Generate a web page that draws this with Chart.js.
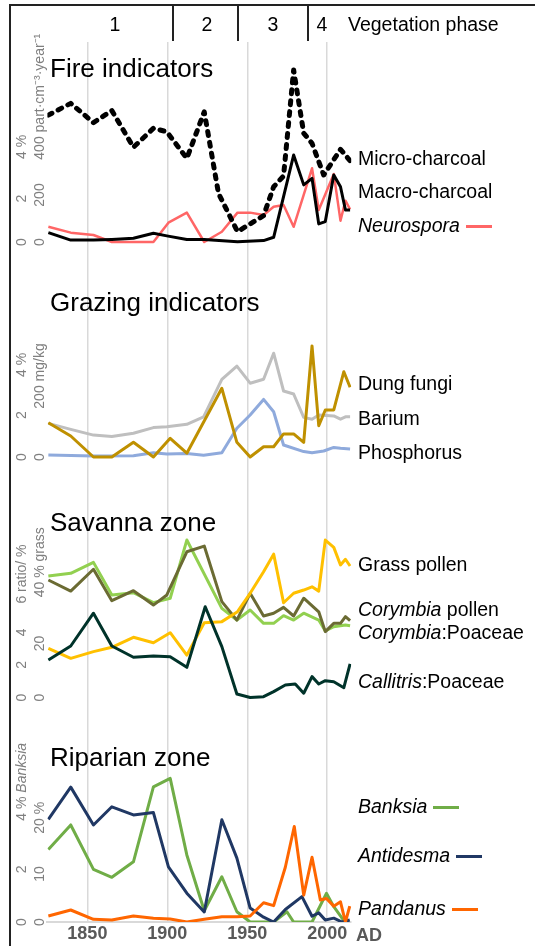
<!DOCTYPE html>
<html><head><meta charset="utf-8">
<script src="https://cdn.jsdelivr.net/npm/chart.js@4.4.1/dist/chart.umd.min.js"></script>
<style>
html,body{margin:0;padding:0;background:#fff;}
#wrap{position:relative;width:535px;height:946px;overflow:hidden;font-family:"Liberation Sans",Arial,sans-serif;background:#fff;}
canvas{position:absolute;left:0;}
.t{position:absolute;white-space:nowrap;line-height:1;color:#000;}
.seg{display:inline-block;height:3px;vertical-align:middle;margin-left:6px;width:26px;position:relative;top:-1px;}
.rule{position:absolute;background:#222;}
</style></head>
<body><div id="wrap">
<div class="rule" style="left:9px;top:4px;width:526px;height:2px;"></div>
<div class="rule" style="left:9px;top:4px;width:2px;height:942px;"></div>
<div class="rule" style="left:172px;top:4px;width:2px;height:37px;"></div>
<div class="rule" style="left:237px;top:4px;width:2px;height:37px;"></div>
<div class="rule" style="left:307px;top:4px;width:2px;height:37px;"></div>
<canvas id="c1"></canvas><canvas id="c2"></canvas><canvas id="c3"></canvas><canvas id="c4"></canvas>
</div>
<script>
// ---------- axis / tick data ----------
const X_MIN = 1825, X_MAX = 2015;
const xTicks = [1850, 1900, 1950, 2000];

const fireOuterTicks = [0, 2, 4],   fireOuterLabels = ['0', '2', '4 %'];
const fireInnerTicks = [0, 200, 400], fireInnerLabels = ['0', '200', '400 part\u00B7cm\u207B\u00B3\u00B7year\u207B\u00B9'];
const grazOuterTicks = [0, 2, 4],   grazOuterLabels = ['0', '2', '4 %'];
const grazInnerTicks = [0, 200],    grazInnerLabels = ['0', '200 mg/kg'];
const savOuterTicks = [0, 2, 4, 6], savOuterLabels = ['0', '2', '4', '6 ratio/ %'];
const savInnerTicks = [0, 20, 40],  savInnerLabels = ['0', '20', '40 % grass'];
const ripOuterTicks = [0, 2, 4],    ripOuterLabels = ['0', '2', '4 % _Banksia_'];
const ripInnerTicks = [0, 10, 20],  ripInnerLabels = ['0', '10', '20 %'];

// ---------- Fire indicators ----------
const microYears = [1825.6,1839.6,1853.8,1865.3,1878.8,1891.3,1899.7,1912.2,1923.1,1932.0,1943.9,1960.2,1966.5,1972.7,1979.0,1985.3,1990.5,1997.8,2008.3,2014.3];
const microVals  = [540,590,508,559,403,484,469,356,554,207,44,112,235,281,732,463,420,285,394,346];
const macroYears = [1825.6,1839.6,1853.8,1865.3,1878.8,1891.3,1899.7,1912.2,1923.1,1943.9,1960.2,1966.5,1979.0,1985.3,1990.5,1994.7,1998.8,2004.1,2008.3,2011.4,2014.3];
const macroVals  = [40,8,8,11,16,37,26,11,11,1,6,20,370,243,271,77,87,285,235,136,136];
const neuroYears = [1825.6,1839.6,1853.8,1865.3,1878.8,1891.3,1900.7,1912.2,1923.1,1934.1,1943.9,1951.8,1960.2,1966.5,1972.7,1979.0,1990.5,1994.7,2004.1,2008.3,2011.4,2014.3];
const neuroVals  = [0.70,0.43,0.32,0,0,0,0.89,1.35,0,0.47,1.35,1.35,1.24,1.62,1.70,0.70,3.39,1.47,3.13,0.98,1.90,1.50];

// ---------- Grazing indicators ----------
const bariumYears = [1825.6,1839.6,1853.8,1865.3,1878.8,1891.3,1899.7,1912.2,1922.7,1934.1,1943.5,1951.8,1960.2,1966.5,1972.7,1979.0,1985.3,1990.5,1994.7,2004.1,2008.3,2011.4,2014.3];
const bariumVals  = [112,92,73,68,79,98,101,109,134,259,303,246,259,346,220,210,132,126,140,137,126,134,134];
const phosYears = [1825.6,1853.8,1878.8,1891.3,1899.7,1912.2,1922.7,1934.1,1943.5,1951.8,1960.2,1966.5,1972.7,1985.3,1990.5,1997.8,2004.1,2008.3,2014.3];
const phosVals  = [7,3,4,14,10,12,6,14,96,140,192,151,40,18,14,20,32,29,27];
const dungYears = [1825.6,1839.6,1853.8,1865.3,1878.8,1891.3,1901.8,1912.2,1934.1,1943.5,1951.8,1960.2,1966.5,1972.7,1979.0,1985.3,1990.5,1994.7,1998.8,2004.1,2010.4,2014.3];
const dungVals  = [1.63,1.0,0,0,0.70,0,0.89,0.18,3.27,0.70,0,0.49,0.49,1.10,1.10,0.70,5.29,1.49,2.24,2.24,4.06,3.32];

// ---------- Savanna zone ----------
const grassYears = [1825.6,1839.6,1853.8,1865.3,1878.8,1891.3,1901.8,1912.2,1923.1,1934.1,1943.9,1951.8,1960.2,1966.5,1972.7,1979.0,1985.3,1990.5,1994.7,1998.8,2004.1,2008.3,2011.4,2014.3];
const grassVals  = [18.2,14.5,17.0,18.6,22.3,20.3,24.0,15.7,27.7,28.1,31.8,38.6,46.6,53.1,35.1,38.6,39.8,41.0,39.4,58.3,55.6,49.1,51.2,48.7];
const coryYears = [1825.6,1839.6,1853.8,1865.3,1878.8,1891.3,1901.8,1912.2,1934.1,1943.5,1951.8,1960.2,1966.5,1972.7,1979.0,1985.3,1994.7,1998.8,2004.1,2011.4,2014.3];
const coryVals  = [7.45,7.62,8.29,6.29,6.43,5.82,6.09,9.66,5.47,4.75,5.37,4.55,4.55,5.02,4.75,5.17,4.75,4.08,4.34,4.45,4.40];
const coryPoaYears = [1825.6,1839.6,1853.8,1865.3,1878.8,1891.3,1899.7,1912.2,1923.1,1934.1,1943.5,1951.8,1960.2,1966.5,1972.7,1979.0,1985.3,1994.7,1998.8,2004.1,2008.3,2011.4,2014.3];
const coryPoaVals  = [7.21,6.53,7.87,5.94,6.55,5.67,6.29,8.94,9.29,5.88,4.75,6.39,5.00,5.17,5.53,5.00,6.09,5.26,4.04,4.55,4.55,4.96,4.71];
const callYears = [1825.6,1839.6,1853.8,1865.3,1878.8,1891.3,1901.8,1912.2,1923.7,1934.1,1943.5,1951.8,1960.2,1966.5,1973.8,1980.0,1985.3,1990.5,1994.7,1998.8,2004.1,2010.4,2014.3];
const callVals  = [2.30,3.16,5.17,3.16,2.47,2.55,2.50,1.85,5.57,3.12,0.21,0,0.05,0.36,0.77,0.83,0.26,1.28,0.83,1.03,0.97,0.60,2.06];

// ---------- Riparian zone ----------
const banksiaYears = [1825.6,1839.6,1853.8,1865.3,1878.8,1891.3,1901.8,1912.2,1923.1,1934.1,1943.5,1951.8,1960.2,1966.5,1974.8,1979.0,1990.5,1999.5,2004.1,2010.4,2013.5];
const banksiaVals  = [2.76,3.69,2.00,1.70,2.29,5.14,5.46,2.55,0.43,1.72,0.39,0,0,0,0.39,0,0,1.09,0.58,0.05,0];
const antiYears = [1825.6,1839.6,1853.8,1865.3,1878.8,1891.3,1900.7,1912.2,1923.1,1934.1,1943.5,1951.8,1960.2,1966.5,1973.8,1984.2,1990.5,1994.7,1998.8,2004.1,2009.3,2014.1];
const antiVals  = [21.4,28.1,20.2,24.0,22.3,22.8,11.5,6.0,2.1,21.3,13.3,2.9,1.0,0,2.6,5.3,1.2,1.9,0.4,0.8,0,0.4];
const pandYears = [1825.6,1839.6,1853.8,1865.3,1878.8,1891.3,1901.8,1912.2,1923.1,1934.1,1943.5,1951.8,1960.2,1966.5,1973.8,1979.4,1985.3,1990.5,1995.7,1999.5,2004.1,2008.3,2011.4,2014.1];
const pandVals  = [1.25,2.5,0.56,0.42,1.25,0.77,0.63,0,0.56,1.1,1.1,1.25,4.0,3.4,11.4,19.9,5.6,13.5,4.6,4.9,3.3,4.2,0,3.3];

// ---------- helpers ----------
const FONT = '"Liberation Sans", Arial, sans-serif';
const PAD_L = 47.4, PAD_R = 535 - 351.2;

const sideTicks = {
  id: 'sideTicks',
  afterDraw(chart, args, opts) {
    const ctx = chart.ctx;
    (opts.cols || []).forEach(col => {
      const sc = chart.scales[col.axis];
      col.values.forEach((v, i) => {
        const py = sc.getPixelForValue(v);
        const label = col.labels[i];
        const parts = label.split('_');
        ctx.save();
        ctx.translate(col.x, py);
        ctx.rotate(-Math.PI / 2);
        ctx.fillStyle = '#7f7f7f';
        ctx.textBaseline = 'middle';
        ctx.textAlign = 'left';
        ctx.font = '14px ' + FONT;
        const num = label.split(' ')[0];
        let x = -ctx.measureText(num).width / 2;
        parts.forEach((p, k) => {
          if (!p) return;
          ctx.font = (k % 2 ? 'italic ' : '') + '14px ' + FONT;
          ctx.fillText(p, x, 0);
          x += ctx.measureText(p).width;
        });
        ctx.restore();
      });
    });
  }
};

function ser(xs, ys, axis, color, width, dash) {
  return {
    data: xs.map((x, i) => ({x: x, y: ys[i]})),
    yAxisID: axis, borderColor: color, backgroundColor: color,
    borderWidth: width, borderDash: dash || [], borderCapStyle: dash ? 'round' : 'butt',
    borderJoinStyle: 'round', pointRadius: 0, tension: 0, fill: false
  };
}

function panel(id, top, height, padTop, isBottom, yRanges, datasets, cols) {
  const cv = document.getElementById(id);
  cv.width = 535; cv.height = height; cv.style.top = top + 'px';
  const scales = {
    x: {
      type: 'linear', min: X_MIN, max: X_MAX, display: true,
      afterBuildTicks: s => { s.ticks = xTicks.map(v => ({value: v})); },
      grid: {color: '#d9d9d9', lineWidth: 1.5, drawTicks: false},
      border: {display: isBottom, color: '#d9d9d9', width: 2},
      ticks: {display: isBottom, padding: 1.2, autoSkip: false, maxRotation: 0,
               color: '#595959', font: {family: FONT, size: 18, weight: 'bold'},
               callback: v => String(v)}
    }
  };
  for (const k in yRanges) scales[k] = {type: 'linear', display: false, min: yRanges[k][0], max: yRanges[k][1]};
  return new Chart(cv, {
    type: 'line',
    data: {datasets: datasets},
    options: {
      responsive: false, animation: false,
      layout: {padding: {left: PAD_L, right: PAD_R, top: padTop, bottom: 0}},
      plugins: {legend: {display: false}, tooltip: {enabled: false}, sideTicks: {cols: cols}},
      scales: scales
    },
    plugins: [sideTicks]
  });
}

// Fire: area 42..272, zero at 242
panel('c1', 0, 272, 42, false,
  {o: [-30 / 21.75, 200 / 21.75], i: [-30 / 0.235, 200 / 0.235]},
  [ser(microYears, microVals, 'i', '#000000', 5, [4, 7]),
   ser(macroYears, macroVals, 'i', '#000000', 3),
   ser(neuroYears, neuroVals, 'o', '#ff6666', 2.5)],
  [{axis: 'o', x: 22, values: fireOuterTicks, labels: fireOuterLabels},
   {axis: 'i', x: 40, values: fireInnerTicks, labels: fireInnerLabels}]);

// Grazing: area 272..490, zero at 457
panel('c2', 272, 218, 0, false,
  {o: [-33 / 21, 185 / 21], i: [-33 / 0.3, 185 / 0.3]},
  [ser(dungYears, dungVals, 'o', '#bf9000', 3),
   ser(phosYears, phosVals, 'i', '#8faadc', 3),
   ser(bariumYears, bariumVals, 'i', '#bfbfbf', 3)],
  [{axis: 'o', x: 22, values: grazOuterTicks, labels: grazOuterLabels},
   {axis: 'i', x: 40, values: grazInnerTicks, labels: grazInnerLabels}]);

// Savanna: area 490..722, zero at 697.5
panel('c3', 490, 232, 0, false,
  {o: [-24.5 / 16.3, 207.5 / 16.3], i: [-24.5 / 2.7, 207.5 / 2.7]},
  [ser(callYears, callVals, 'o', '#00332a', 3),
   ser(grassYears, grassVals, 'i', '#ffc000', 3),
   ser(coryPoaYears, coryPoaVals, 'o', '#6b6b33', 3),
   ser(coryYears, coryVals, 'o', '#92d050', 3)],
  [{axis: 'o', x: 22, values: savOuterTicks, labels: savOuterLabels},
   {axis: 'i', x: 40, values: savInnerTicks, labels: savInnerLabels}]);

// Riparian: area 722..922, zero at 922
panel('c4', 722, 224, 0, true,
  {o: [0, 200 / 26.3], i: [0, 200 / 4.8]},
  [ser(pandYears, pandVals, 'i', '#ff6600', 3),
   ser(antiYears, antiVals, 'i', '#203864', 3),
   ser(banksiaYears, banksiaVals, 'o', '#70ad47', 3)],
  [{axis: 'o', x: 22, values: ripOuterTicks, labels: ripOuterLabels},
   {axis: 'i', x: 40, values: ripInnerTicks, labels: ripInnerLabels}]);

// ---------- text overlays ----------
const wrap = document.getElementById('wrap');
function txt(html, x, baseline, size, opt) {
  opt = opt || {};
  const d = document.createElement('div');
  d.className = 't';
  d.innerHTML = html;
  d.style.fontSize = size + 'px';
  d.style.top = (baseline - 0.8465 * size) + 'px';
  if (opt.weight) d.style.fontWeight = opt.weight;
  if (opt.color) d.style.color = opt.color;
  wrap.appendChild(d);
  if (opt.center) d.style.left = (x - d.offsetWidth / 2) + 'px'; else d.style.left = x + 'px';
  return d;
}
const phaseLabels = ['1', '2', '3', '4'], phaseX = [115, 207, 273, 322];
phaseLabels.forEach((p, i) => txt(p, phaseX[i], 31.5, 19.5, {center: true}));
txt('Vegetation phase', 348, 31.5, 19.5);

txt('Fire indicators', 50, 76.7, 26);
txt('Grazing indicators', 50, 311, 26);
txt('Savanna zone', 50, 531, 26);
txt('Riparian zone', 50, 766, 26);

const LS = 19.5, LX = 358;
txt('Micro-charcoal', LX, 166, LS);
txt('Macro-charcoal', LX, 199, LS);
txt('<i>Neurospora</i><span class="seg" style="background:#ff6666"></span>', LX, 233, LS);
txt('Dung fungi', LX, 391, LS);
txt('Barium', LX, 426, LS);
txt('Phosphorus', LX, 460, LS);
txt('Grass pollen', LX, 572, LS);
txt('<i>Corymbia</i> pollen', LX, 617, LS);
txt('<i>Corymbia</i>:Poaceae', LX, 640, LS);
txt('<i>Callitris</i>:Poaceae', LX, 689, LS);
txt('<i>Banksia</i><span class="seg" style="background:#70ad47"></span>', LX, 814, LS);
txt('<i>Antidesma</i><span class="seg" style="background:#203864"></span>', LX, 863, LS);
txt('<i>Pandanus</i><span class="seg" style="background:#ff6600"></span>', LX, 916, LS);
txt('AD', 356, 941, 18, {weight: 'bold', color: '#595959'});
</script>
</body></html>
